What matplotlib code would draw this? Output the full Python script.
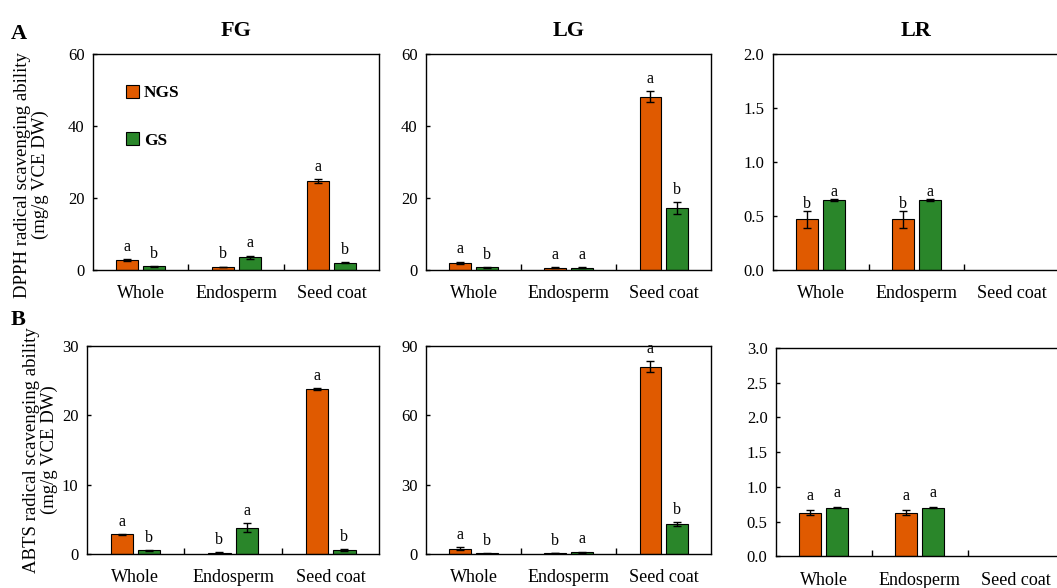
import numpy as np
import matplotlib
matplotlib.use('Agg')
import matplotlib.pyplot as plt

plt.rcParams['font.family'] = ['Liberation Serif', 'DejaVu Serif']

#Data
parts = ['Whole', 'Endosperm', 'Seed coat']
groups = ['NGS', 'GS']
colors = ['#E05A00', '#2A862A']

# DPPH (mg/g VCE DW)
dpph_fg_ngs = [2.8, 0.8, 24.7]
dpph_fg_gs = [1.0, 3.5, 2.0]
dpph_fg_ngs_err = [0.2, 0.1, 0.5]
dpph_fg_gs_err = [0.1, 0.5, 0.2]
dpph_fg_ngs_lab = ['a', 'b', 'a']
dpph_fg_gs_lab = ['b', 'a', 'b']

dpph_lg_ngs = [2.0, 0.6, 48.2]
dpph_lg_gs = [0.7, 0.6, 17.2]
dpph_lg_ngs_err = [0.3, 0.1, 1.5]
dpph_lg_gs_err = [0.1, 0.1, 1.7]
dpph_lg_ngs_lab = ['a', 'a', 'a']
dpph_lg_gs_lab = ['b', 'a', 'b']

dpph_lr_ngs = [0.47, 0.47]
dpph_lr_gs = [0.65, 0.65]
dpph_lr_ngs_err = [0.08, 0.08]
dpph_lr_gs_err = [0.01, 0.01]
dpph_lr_ngs_lab = ['b', 'b']
dpph_lr_gs_lab = ['a', 'a']

# ABTS (mg/g VCE DW)
abts_fg_ngs = [2.8, 0.2, 23.8]
abts_fg_gs = [0.5, 3.8, 0.6]
abts_fg_ngs_err = [0.1, 0.1, 0.15]
abts_fg_gs_err = [0.05, 0.6, 0.15]
abts_fg_ngs_lab = ['a', 'b', 'a']
abts_fg_gs_lab = ['b', 'a', 'b']

abts_lg_ngs = [2.3, 0.4, 81.0]
abts_lg_gs = [0.2, 0.8, 12.8]
abts_lg_ngs_err = [0.5, 0.1, 2.5]
abts_lg_gs_err = [0.05, 0.2, 0.8]
abts_lg_ngs_lab = ['a', 'b', 'a']
abts_lg_gs_lab = ['b', 'a', 'b']

abts_lr_ngs = [0.63, 0.63]
abts_lr_gs = [0.70, 0.70]
abts_lr_ngs_err = [0.03, 0.03]
abts_lr_gs_err = [0.01, 0.01]
abts_lr_ngs_lab = ['a', 'a']
abts_lr_gs_lab = ['a', 'a']

titles = ['FG', 'LG', 'LR']

fig = plt.figure(figsize=(10.57, 5.88), dpi=100)

# axes positions [left, bottom, width, height]
pos_top = [[0.088, 0.541, 0.271, 0.367],
           [0.403, 0.541, 0.270, 0.367],
           [0.731, 0.541, 0.272, 0.367]]
pos_bot = [[0.082, 0.058, 0.277, 0.354],
           [0.403, 0.058, 0.270, 0.354],
           [0.734, 0.054, 0.272, 0.354]]

w = 0.23
off = 0.14


def draw_panel(ax, ngs, gs, ngs_err, gs_err, ngs_lab, gs_lab, yticks, fmt, lab_off):
    x = np.arange(len(ngs))
    ax.bar(x - off, ngs, w, yerr=ngs_err, color=colors[0], edgecolor='black',
           linewidth=0.8, capsize=3, error_kw={'elinewidth': 1, 'capthick': 1},
           label=groups[0], zorder=2)
    ax.bar(x + off, gs, w, yerr=gs_err, color=colors[1], edgecolor='black',
           linewidth=0.8, capsize=3, error_kw={'elinewidth': 1, 'capthick': 1},
           label=groups[1], zorder=2)
    for i in range(len(ngs)):
        ax.text(x[i] - off, ngs[i] + ngs_err[i] + lab_off, ngs_lab[i],
                ha='center', va='bottom', fontsize=11.5)
        ax.text(x[i] + off, gs[i] + gs_err[i] + lab_off, gs_lab[i],
                ha='center', va='bottom', fontsize=11.5)
    ax.set_xlim(-0.5, 2.5)
    ax.set_ylim(yticks[0], yticks[-1])
    ax.set_yticks(yticks)
    ax.set_yticklabels([fmt.format(t) for t in yticks], fontsize=12)
    ax.set_xticks([0, 1, 2])
    ax.set_xticklabels(parts, fontsize=13)
    ax.set_xticks([0.5, 1.5], minor=True)
    ax.tick_params(axis='x', which='major', length=0, pad=11)
    ax.tick_params(axis='x', which='minor', length=4, direction='in', width=1)
    ax.tick_params(axis='y', length=3, direction='in', width=1, pad=6)
    for s in ax.spines.values():
        s.set_linewidth(1)


# row A: DPPH
axA = [fig.add_axes(p) for p in pos_top]
draw_panel(axA[0], dpph_fg_ngs, dpph_fg_gs, dpph_fg_ngs_err, dpph_fg_gs_err,
           dpph_fg_ngs_lab, dpph_fg_gs_lab, [0, 20, 40, 60], '{:.0f}', 1.2)
draw_panel(axA[1], dpph_lg_ngs, dpph_lg_gs, dpph_lg_ngs_err, dpph_lg_gs_err,
           dpph_lg_ngs_lab, dpph_lg_gs_lab, [0, 20, 40, 60], '{:.0f}', 1.2)
draw_panel(axA[2], dpph_lr_ngs, dpph_lr_gs, dpph_lr_ngs_err, dpph_lr_gs_err,
           dpph_lr_ngs_lab, dpph_lr_gs_lab, [0, 0.5, 1.0, 1.5, 2.0], '{:.1f}', -0.01)

# row B: ABTS
axB = [fig.add_axes(p) for p in pos_bot]
draw_panel(axB[0], abts_fg_ngs, abts_fg_gs, abts_fg_ngs_err, abts_fg_gs_err,
           abts_fg_ngs_lab, abts_fg_gs_lab, [0, 10, 20, 30], '{:.0f}', 0.6)
draw_panel(axB[1], abts_lg_ngs, abts_lg_gs, abts_lg_ngs_err, abts_lg_gs_err,
           abts_lg_ngs_lab, abts_lg_gs_lab, [0, 30, 60, 90], '{:.0f}', 1.8)
draw_panel(axB[2], abts_lr_ngs, abts_lr_gs, abts_lr_ngs_err, abts_lr_gs_err,
           abts_lr_ngs_lab, abts_lr_gs_lab, [0, 0.5, 1.0, 1.5, 2.0, 2.5, 3.0], '{:.1f}', 0.09)

for ax, t in zip(axA, titles):
    ax.set_title(t, fontsize=16, fontweight='bold', pad=13)

axA[0].set_ylabel('DPPH radical scavenging ability\n(mg/g VCE DW)', fontsize=13.5,
                  linespacing=1.05)
axA[0].yaxis.set_label_coords(-0.155, 0.44)
axB[0].set_ylabel('ABTS radical scavenging ability\n(mg/g VCE DW)', fontsize=13.5,
                  labelpad=3, linespacing=1.05)

axA[0].legend(loc='upper left', bbox_to_anchor=(0.06, 0.93), frameon=False,
              handlelength=0.75, handleheight=0.75, handletextpad=0.3,
              labelspacing=1.8, prop={'weight': 'bold', 'size': 12.5})

fig.text(0.010, 0.943, 'A', fontsize=16, fontweight='bold', va='center')
fig.text(0.010, 0.456, 'B', fontsize=16, fontweight='bold', va='center')

plt.savefig('out.png', dpi=100)
